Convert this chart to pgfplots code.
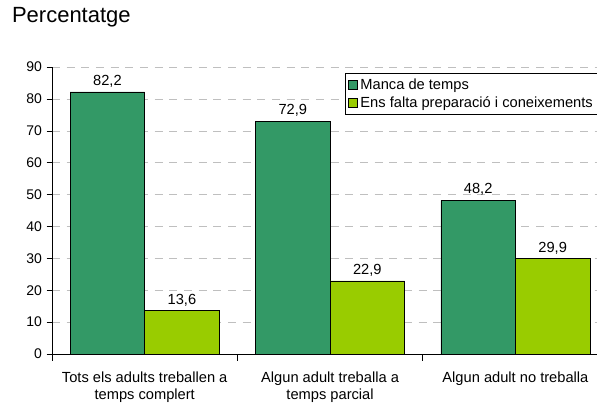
\documentclass[border=0pt]{standalone}
\usepackage{pgfplots}
\pgfplotsset{compat=1.18}
\usetikzlibrary{calc}
\usepackage{fontspec}
\setmainfont{Liberation Sans}
\definecolor{cA}{HTML}{339966}
\definecolor{cB}{HTML}{99CC00}
\begin{document}
\begin{tikzpicture}
\begin{axis}[
  name=ax,
  scale only axis,
  width=408.75pt, height=215.25pt,
  ybar=0pt, bar width=55.9pt,
  xmin=-0.5, xmax=2.44,
  ymin=0, ymax=90,
  ytick={0,10,...,90},
  xtick={0,1,2},
  xticklabels={{Tots els adults treballen a\\temps complert},{Algun adult treballa a\\temps parcial},{Algun adult no treballa}},
  xticklabel style={align=center, font=\fontsize{11}{12.9}\selectfont, yshift=-5.5pt},
  yticklabel style={font=\fontsize{10.5}{12}\selectfont},
  major x tick style={draw=none},
  minor xtick={-0.5,0.5,1.5},
  minor x tick style={black, thin},
  minor tick length=5pt,
  major tick length=4pt,
  ytick style={black, thin},
  tick align=outside,
  axis x line*=bottom, axis y line*=left,
  axis line style={black, thin, -},
  ymajorgrids, grid style={gray!50, dashed, dash pattern=on 6pt off 5pt},
  /pgf/number format/assume math mode=true,
  nodes near coords,
  every node near coord/.append style={font=\fontsize{11}{13}\selectfont, /pgf/number format/.cd, use comma, fixed, fixed zerofill, precision=1},
  legend style={at={(rel axis cs:0.5376,0.979)}, anchor=north west, draw=black, thin, font=\fontsize{11}{13}\selectfont, inner sep=2pt, row sep=0pt, cells={anchor=west}},
  legend image code/.code={\draw[#1, draw=black, thin] (0pt,-3.5pt) rectangle (7pt,3.5pt);},
  clip=false,
]
\addplot[fill=cA, draw=black, thin] coordinates {(0,82.2) (1,72.9) (2,48.2)};
\addplot[fill=cB, draw=black, thin] coordinates {(0,13.6) (1,22.9) (2,29.9)};
\legend{Manca de temps, Ens falta preparació i coneixements}
\end{axis}
\node[anchor=west, font=\fontsize{16.5}{18}\selectfont] at ($(ax.north west)+(-33.5pt,37.5pt)$) {Percentatge};
\pgfresetboundingbox
\path[use as bounding box] ($(ax.south west)+(-39pt,-37.5pt)$) rectangle ($(ax.north east)+(0pt,50.25pt)$);
\end{tikzpicture}
\end{document}
